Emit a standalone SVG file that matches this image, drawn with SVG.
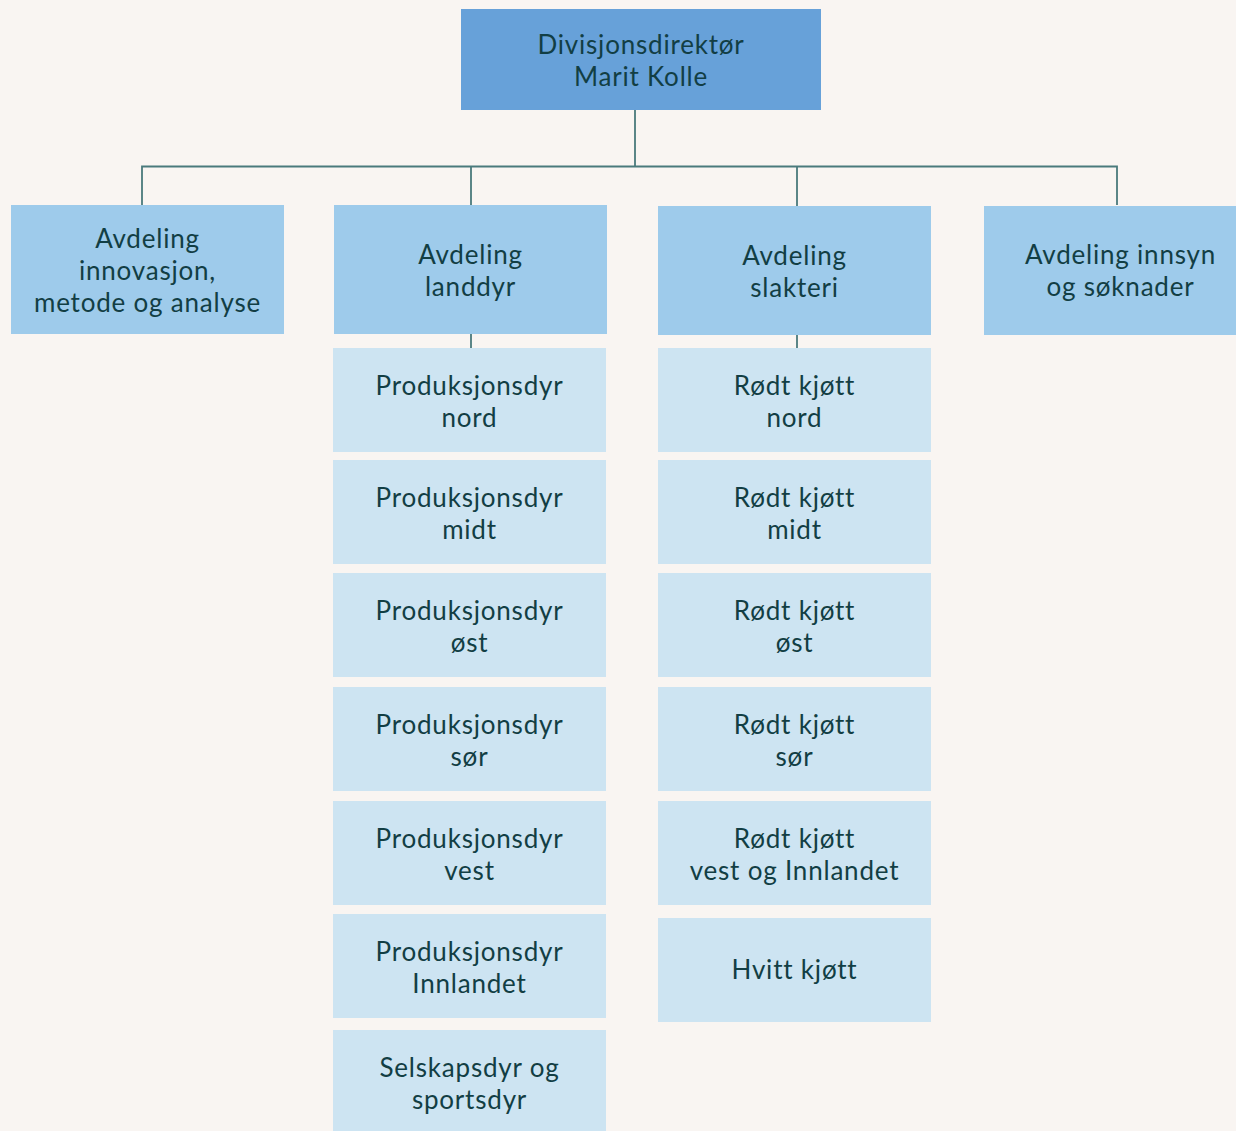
<svg xmlns="http://www.w3.org/2000/svg" width="1236" height="1131" viewBox="0 0 1236 1131">
<style>
.bg{fill:#f9f5f2}
.top{fill:#67a1d9}
.dep{fill:#9ecbeb}
.sub{fill:#cde4f2}
text{font-family:Lato,"Noto Sans",sans-serif;font-size:26px;fill:#123e44;text-anchor:middle;letter-spacing:0.8px}
.conn{stroke:#4a7a7c;stroke-width:1.8;fill:none}
</style>
<rect class="bg" x="0" y="0" width="1236" height="1131"/>
<g id="connectors">
<path class="conn" d="M635 110V166.5M142 205V166.5H1117V205M471 166.5V205M797 166.5V206M471 334V348M797 335V348"/>
</g>
<g id="n-top"><rect class="top" x="461" y="9" width="360" height="101"/><text x="641" y="54">Divisjonsdirektør</text><text x="641" y="86">Marit Kolle</text></g>
<g id="n-innov"><rect class="dep" x="11" y="205" width="273" height="129"/><text x="147.5" y="248">Avdeling</text><text x="147.5" y="280">innovasjon,</text><text x="147.5" y="312">metode og analyse</text></g>
<g id="n-landdyr"><rect class="dep" x="334" y="205" width="273" height="129"/><text x="470.5" y="264">Avdeling</text><text x="470.5" y="296">landdyr</text></g>
<g id="n-slakteri"><rect class="dep" x="658" y="206" width="273" height="129"/><text x="794.5" y="265">Avdeling</text><text x="794.5" y="297">slakteri</text></g>
<g id="n-innsyn"><rect class="dep" x="984" y="206" width="273" height="129"/><text x="1120.5" y="264">Avdeling innsyn</text><text x="1120.5" y="296">og søknader</text></g>
<g id="n-pd-nord"><rect class="sub" x="333" y="348" width="273" height="104"/><text x="469.5" y="395">Produksjonsdyr</text><text x="469.5" y="427">nord</text></g>
<g id="n-pd-midt"><rect class="sub" x="333" y="460" width="273" height="104"/><text x="469.5" y="507">Produksjonsdyr</text><text x="469.5" y="539">midt</text></g>
<g id="n-pd-ost"><rect class="sub" x="333" y="573" width="273" height="104"/><text x="469.5" y="620">Produksjonsdyr</text><text x="469.5" y="652">øst</text></g>
<g id="n-pd-sor"><rect class="sub" x="333" y="687" width="273" height="104"/><text x="469.5" y="734">Produksjonsdyr</text><text x="469.5" y="766">sør</text></g>
<g id="n-pd-vest"><rect class="sub" x="333" y="801" width="273" height="104"/><text x="469.5" y="848">Produksjonsdyr</text><text x="469.5" y="880">vest</text></g>
<g id="n-pd-innl"><rect class="sub" x="333" y="914" width="273" height="104"/><text x="469.5" y="961">Produksjonsdyr</text><text x="469.5" y="993">Innlandet</text></g>
<g id="n-selskap"><rect class="sub" x="333" y="1030" width="273" height="104"/><text x="469.5" y="1077">Selskapsdyr og</text><text x="469.5" y="1109">sportsdyr</text></g>
<g id="n-rk-nord"><rect class="sub" x="658" y="348" width="273" height="104"/><text x="794.5" y="395">Rødt kjøtt</text><text x="794.5" y="427">nord</text></g>
<g id="n-rk-midt"><rect class="sub" x="658" y="460" width="273" height="104"/><text x="794.5" y="507">Rødt kjøtt</text><text x="794.5" y="539">midt</text></g>
<g id="n-rk-ost"><rect class="sub" x="658" y="573" width="273" height="104"/><text x="794.5" y="620">Rødt kjøtt</text><text x="794.5" y="652">øst</text></g>
<g id="n-rk-sor"><rect class="sub" x="658" y="687" width="273" height="104"/><text x="794.5" y="734">Rødt kjøtt</text><text x="794.5" y="766">sør</text></g>
<g id="n-rk-vest"><rect class="sub" x="658" y="801" width="273" height="104"/><text x="794.5" y="848">Rødt kjøtt</text><text x="794.5" y="880">vest og Innlandet</text></g>
<g id="n-hvitt"><rect class="sub" x="658" y="918" width="273" height="104"/><text x="794.5" y="979">Hvitt kjøtt</text></g>
</svg>
